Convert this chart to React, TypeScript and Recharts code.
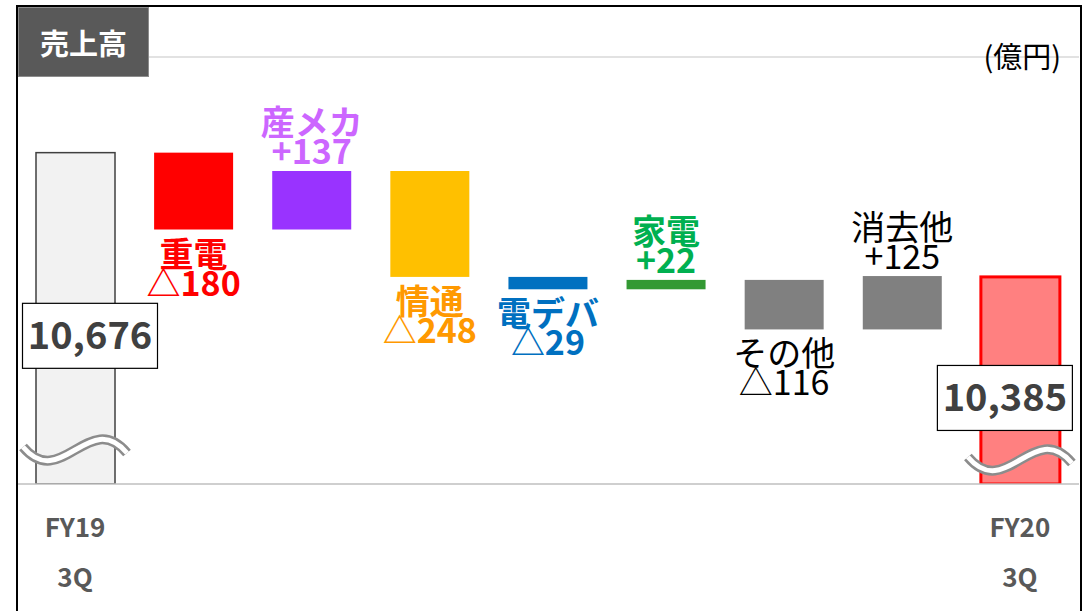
import React from "react";
import { BarChart, Bar, XAxis, YAxis, Cell, ReferenceLine } from "recharts";

// values in 億円
const categories = ["FY19\n3Q", "重電", "産メカ", "情通", "電デバ", "家電", "その他", "消去他", "FY20\n3Q"];
const startTotal = 10676;
const endTotal = 10385;
const deltas = [-180, 137, -248, -29, 22, -116, 125];
const barColors = ["#f2f2f2", "#ff0000", "#9933ff", "#ffc000", "#0070c0", "#339933", "#808080", "#808080", "#ff8080"];
const labelColors = ["#404040", "#ff0000", "#cc66ff", "#ff9900", "#0070c0", "#00b050", "#000000", "#000000", "#404040"];
const labelBold = [true, true, true, true, true, true, false, false, true];
const axisMin = 9900;
const axisMax = 10900;

const JP = '"Noto Sans CJK JP", "Noto Sans", sans-serif';

// build the waterfall ranges [low, high]
const data = (() => {
  const rows: { name: string; range: [number, number]; delta: number }[] = [];
  rows.push({ name: categories[0], range: [axisMin, startTotal], delta: startTotal });
  let running = startTotal;
  deltas.forEach((d, i) => {
    const next = running + d;
    rows.push({ name: categories[i + 1], range: [Math.min(running, next), Math.max(running, next)], delta: d });
    running = next;
  });
  rows.push({ name: categories[categories.length - 1], range: [axisMin, endTotal], delta: endTotal });
  return rows;
})();

const fmtDelta = (d: number) => (d < 0 ? `△${Math.abs(d)}` : `+${d}`);

// broken-axis mark
const Squiggle = ({ x, w, cy }: { x: number; w: number; cy: number }) => {
  const x0 = x - 13;
  const x1 = x + w + 12;
  const d = `M ${x0} ${cy - 3} C ${x0 + 38} ${cy + 42}, ${x1 - 38} ${cy - 42}, ${x1} ${cy + 3}`;
  return (
    <g>
      <path d={d} fill="none" stroke="#8c8c8c" strokeWidth={10} />
      <path d={d} fill="none" stroke="#ffffff" strokeWidth={5} />
    </g>
  );
};

const BarShape = (props: any) => {
  const { x, y, width, height, index, fill } = props;
  const isTotal = index === 0 || index === data.length - 1;
  if (!isTotal) {
    return <rect x={x} y={y} width={width} height={height} fill={fill} />;
  }
  const isEnd = index === data.length - 1;
  const bottom = y + height;
  return (
    <g>
      <rect
        x={x}
        y={y}
        width={width}
        height={height}
        fill={fill}
        stroke={isEnd ? "#ff0000" : "#404040"}
        strokeWidth={isEnd ? 3 : 1.5}
      />
      <Squiggle x={x} w={width} cy={bottom - (isEnd ? 24 : 34)} />
    </g>
  );
};

const BarLabel = (props: any) => {
  const { x, y, width, height, index } = props;
  const row = data[index];
  const cx = x + width / 2;
  const color = labelColors[index];
  const weight = labelBold[index] ? 700 : 400;
  if (index === 0 || index === data.length - 1) {
    const cy = (y + y + height) / 2 + 18;
    const bx = index === 0 ? cx - 53 : cx - 83;
    return (
      <g>
        <rect x={bx} y={cy - 33} width={135} height={65} fill="#ffffff" stroke="#000000" strokeWidth={1.2} />
        <text x={bx + 67.5} y={cy + 13} textAnchor="middle" fontFamily={JP} fontWeight={700} fontSize={38} fill={color}>
          {row.delta.toLocaleString("en-US")}
        </text>
      </g>
    );
  }
  const up = row.delta > 0;
  const name = categories[index];
  const value = fmtDelta(row.delta);
  if (up) {
    const base = y - 7;
    return (
      <g fontFamily={JP} fontWeight={weight} fontSize={34} fill={color} textAnchor="middle">
        <text x={cx} y={base}>{value}</text>
        <text x={cx} y={base - 29}>{name}</text>
      </g>
    );
  }
  const top = y + height + 37;
  return (
    <g fontFamily={JP} fontWeight={weight} fontSize={34} fill={color} textAnchor="middle">
      <text x={cx} y={top}>{name}</text>
      <text x={cx} y={top + 29}>{value}</text>
    </g>
  );
};

const CategoryTick = (props: any) => {
  const { x, y, payload } = props;
  const parts = String(payload.value).split("\n");
  if (parts.length < 2) return null;
  return (
    <g fontFamily={JP} fontWeight={700} fontSize={26} fill="#595959" textAnchor="middle">
      <text x={x} y={y + 45}>{parts[0]}</text>
      <text x={x} y={y + 95}>{parts[1]}</text>
    </g>
  );
};

export default function App() {
  return (
    <div style={{ position: "fixed", left: 0, top: 0, width: 1091, height: 611, background: "#ffffff" }}>
      <BarChart
        width={1091}
        height={611}
        data={data}
        margin={{ top: 57, right: 12, left: 16, bottom: 0 }}
      >
        <ReferenceLine y={axisMax} stroke="#d9d9d9" strokeWidth={1.5} ifOverflow="extendDomain" />
        <XAxis
          dataKey="name"
          height={127}
          interval={0}
          tickLine={false}
          axisLine={{ stroke: "#bfbfbf", strokeWidth: 1.5 }}
          tick={<CategoryTick />}
        />
        <YAxis hide domain={[axisMin, axisMax]} allowDataOverflow />
        <Bar
          dataKey="range"
          barSize={79}
          isAnimationActive={false}
          shape={<BarShape />}
          label={<BarLabel />}
        >
          {data.map((_, i) => (
            <Cell key={`cell-${i}`} fill={barColors[i]} />
          ))}
        </Bar>
      </BarChart>

      {/* frame */}
      <div
        style={{
          position: "absolute",
          left: 16,
          top: 5,
          width: 1066,
          height: 620,
          borderTop: "2px solid #000",
          borderLeft: "2px solid #000",
          borderRight: "2px solid #000",
          boxSizing: "border-box",
          pointerEvents: "none",
        }}
      />
      {/* title */}
      <div
        style={{
          position: "absolute",
          left: 18,
          top: 7,
          width: 131,
          height: 70,
          background: "#595959",
          border: "1px solid #8c8c8c",
          boxSizing: "border-box",
          color: "#ffffff",
          fontFamily: JP,
          fontWeight: 700,
          fontSize: 29,
          display: "flex",
          alignItems: "center",
          justifyContent: "center",
        }}
      >
        売上高
      </div>
      <div
        style={{
          position: "absolute",
          right: 30,
          top: 35,
          fontFamily: JP,
          fontSize: 29,
          color: "#000",
          lineHeight: "40px",
        }}
      >
        (億円)
      </div>
    </div>
  );
}
